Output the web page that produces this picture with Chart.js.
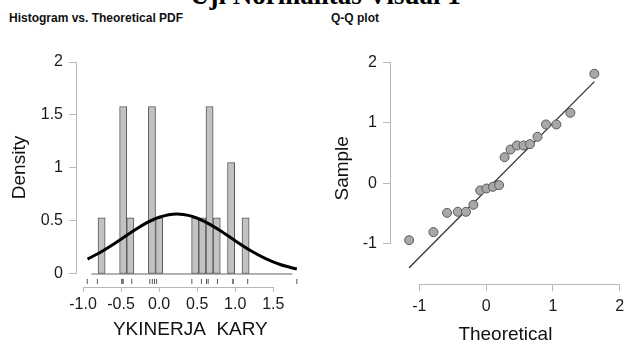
<!DOCTYPE html>
<html>
<head>
<meta charset="utf-8">
<title>Uji Normalitas Visual 1</title>
<script src="https://cdn.jsdelivr.net/npm/chart.js@4.4.1/dist/chart.umd.min.js"></script>
<style>
  html, body { margin: 0; padding: 0; background: #fff; overflow: hidden; }
  #page { position: relative; width: 630px; height: 343px; overflow: hidden; }
  canvas { position: absolute; top: 0; }
  #histCanvas { left: 0; }
  #qqCanvas { left: 315px; }
  .main-title { position: absolute; left: 190px; top: -18px; font: bold 27px/27px "Liberation Serif", "Times New Roman", serif; color: #000; white-space: nowrap; }
  .sub-title { position: absolute; top: 12px; font: bold 12px/12px "Liberation Sans", Arial, sans-serif; color: #111; white-space: nowrap; }
</style>
</head>
<body>
<div id="page">
  <div class="main-title">Uji Normalitas Visual 1</div>
  <div class="sub-title" style="left:9px">Histogram vs. Theoretical PDF</div>
  <div class="sub-title" style="left:331px">Q-Q plot</div>
  <canvas id="histCanvas" width="315" height="343"></canvas>
  <canvas id="qqCanvas" width="315" height="343"></canvas>
</div>
<script>
// histogram bins (centre, density)
const binCenters = [-0.756, -0.472, -0.378, -0.094, 0.001, 0.474, 0.568, 0.663, 0.757, 0.946, 1.136];
const binDensity = [0.53, 1.58, 0.53, 1.58, 0.53, 0.53, 0.53, 1.58, 0.53, 1.05, 0.53];

// theoretical pdf
const pdfX = [-0.94, -0.8, -0.6, -0.4, -0.2, 0, 0.235, 0.4, 0.6, 0.8, 1.0, 1.2, 1.4, 1.6, 1.81];
const pdfY = [0.141, 0.193, 0.281, 0.377, 0.468, 0.535, 0.566, 0.551, 0.495, 0.411, 0.314, 0.222, 0.145, 0.087, 0.047];

// baseline under the bars
const histBaseX = [-0.89, 1.75];

// Q-Q points (also used for the rug under the histogram)
const qqTheoretical = [-1.152, -0.788, -0.584, -0.423, -0.301, -0.190, -0.088, 0.006, 0.102, 0.195,
                       0.277, 0.365, 0.462, 0.560, 0.657, 0.769, 0.896, 1.051, 1.261, 1.620];
const qqSample = [-0.944, -0.811, -0.492, -0.475, -0.475, -0.359, -0.122, -0.089, -0.061, -0.033,
                  0.430, 0.556, 0.623, 0.623, 0.645, 0.767, 0.971, 0.971, 1.164, 1.810];

// Q-Q reference line end points
const qqLineX = [-1.153, 1.62];
const qqLineY = [-1.40, 1.68];

// tick labels
const histXTicks = [-1.0, -0.5, 0.0, 0.5, 1.0, 1.5];
const densityTicks = [0, 0.5, 1, 1.5, 2];
const qqXTicks = [-1, 0, 1, 2];
const qqYTicks = [-1, 0, 1, 2];

Chart.defaults.font.family = '"Liberation Sans", Arial, sans-serif';
Chart.defaults.color = '#1a1a1a';

const AXIS_GREY = '#b8b8b8';

function pts(xs, ys) {
    return xs.map(function(x, i) { return {x: x, y: ys[i]}; });
}

// axis lines only between first and last tick, plus axis titles
const rangeFrame = {
    id: 'rangeFrame',
    afterDraw(chart, args, opts) {
        const ctx = chart.ctx;
        const xs = chart.scales.x, ys = chart.scales.y, area = chart.chartArea;
        const xt = xs.ticks, yt = ys.ticks;
        ctx.save();
        ctx.strokeStyle = AXIS_GREY;
        ctx.lineWidth = 1;
        ctx.beginPath();
        const yLine = Math.round(area.bottom) + 0.5;
        ctx.moveTo(xs.getPixelForValue(xt[0].value), yLine);
        ctx.lineTo(xs.getPixelForValue(xt[xt.length - 1].value), yLine);
        const xLine = Math.round(area.left) - 0.5;
        ctx.moveTo(xLine, ys.getPixelForValue(yt[0].value));
        ctx.lineTo(xLine, ys.getPixelForValue(yt[yt.length - 1].value));
        ctx.stroke();

        ctx.fillStyle = '#111';
        ctx.font = '19px "Liberation Sans", Arial, sans-serif';
        ctx.textAlign = 'center';
        ctx.textBaseline = 'middle';
        ctx.fillText(opts.xTitle, (area.left + area.right) / 2, opts.xTitleY);
        ctx.translate(opts.yTitleX, opts.yTitleY);
        ctx.rotate(-Math.PI / 2);
        ctx.fillText(opts.yTitle, 0, 0);
        ctx.restore();
    }
};

function axis(ticks, extra) {
    const a = {
        type: 'linear',
        offset: false,
        border: {display: false},
        grid: {display: true, drawOnChartArea: false, offset: false, color: AXIS_GREY, tickLength: 8},
        ticks: {
            font: {size: 16}, color: '#1a1a1a', padding: 6,
            maxRotation: 0, minRotation: 0, autoSkip: false,
            callback: function(v) { return String(v); }
        },
        afterBuildTicks: function(s) { s.ticks = ticks.map(function(v) { return {value: v}; }); }
    };
    return Object.assign(a, extra);
}

// ---------- histogram vs pdf ----------
const histX = axis(histXTicks, {min: -1.079, max: 1.9, afterFit: function(s) { s.height = 55.7; }});
histX.grid.tickLength = 4.5;
histX.ticks.padding = 3.6;
histX.ticks.callback = function(v) { return Number(v).toFixed(1); };
const histY = axis(densityTicks, {min: -0.1255, max: 2, afterFit: function(s) { s.width = 77; }});

new Chart(document.getElementById('histCanvas'), {
    type: 'scatter',
    data: {
        datasets: [{
            type: 'line',
            data: pts(pdfX, pdfY),
            borderColor: '#000',
            borderWidth: 3,
            pointRadius: 0,
            fill: false,
            cubicInterpolationMode: 'monotone',
            order: 0
        }, {
            type: 'scatter',
            data: qqSample.map(function(v) { return {x: v, y: -0.07}; }),
            pointStyle: 'line',
            rotation: 90,
            radius: 2.5,
            borderColor: '#555',
            borderWidth: 1,
            order: 1
        }, {
            type: 'bar',
            data: pts(binCenters, binDensity),
            backgroundColor: '#c2c2c2',
            borderColor: '#555',
            borderWidth: 1,
            borderSkipped: false,
            barPercentage: 1,
            categoryPercentage: 1,
            order: 2
        }, {
            type: 'line',
            data: histBaseX.map(function(v) { return {x: v, y: 0}; }),
            borderColor: '#666',
            borderWidth: 1,
            pointRadius: 0,
            order: 3
        }]
    },
    options: {
        responsive: false,
        animation: false,
        events: [],
        layout: {padding: {top: 62, right: 11.3, bottom: 0, left: 0}},
        scales: {x: histX, y: histY},
        plugins: {
            legend: {display: false},
            tooltip: {enabled: false},
            rangeFrame: {xTitle: 'YKINERJA  KARY', xTitleY: 330, yTitle: 'Density', yTitleX: 20, yTitleY: 167.5}
        }
    },
    plugins: [rangeFrame]
});

// ---------- Q-Q plot ----------
const qqX = axis(qqXTicks, {min: -1.423, max: 2, afterFit: function(s) { s.height = 58.7; }});
qqX.grid.tickLength = 7;
qqX.ticks.padding = 5.8;
const qqY = axis(qqYTicks, {min: -1.675, max: 2, afterFit: function(s) { s.width = 76; }});

new Chart(document.getElementById('qqCanvas'), {
    type: 'scatter',
    data: {
        datasets: [{
            data: pts(qqTheoretical, qqSample),
            backgroundColor: '#a8a8a8',
            borderColor: '#5a5a5a',
            borderWidth: 1,
            pointRadius: 4.5,
            order: 0
        }, {
            type: 'line',
            data: pts(qqLineX, qqLineY),
            borderColor: '#333',
            borderWidth: 1.3,
            pointRadius: 0,
            order: 1
        }]
    },
    options: {
        responsive: false,
        animation: false,
        events: [],
        layout: {padding: {top: 62.3, right: 4.3, bottom: 0, left: 0}},
        scales: {x: qqX, y: qqY},
        plugins: {
            legend: {display: false},
            tooltip: {enabled: false},
            rangeFrame: {xTitle: 'Theoretical', xTitleY: 335, yTitle: 'Sample', yTitleX: 28, yTitleY: 168.3}
        }
    },
    plugins: [rangeFrame]
});
</script>
</body>
</html>
